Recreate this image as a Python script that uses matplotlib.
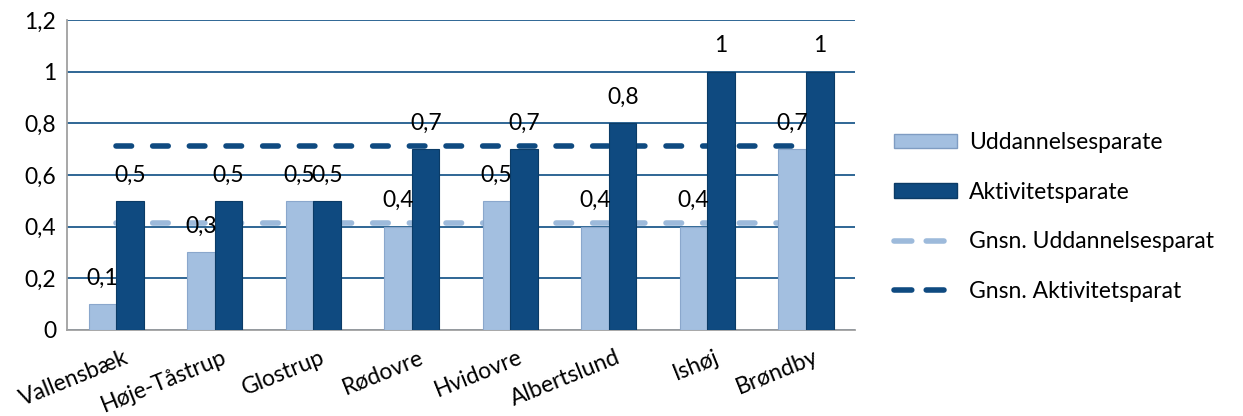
import matplotlib.pyplot as plt
import numpy as np
from matplotlib.lines import Line2D
from matplotlib.patches import Patch

plt.rcParams['font.family'] = ['Lato', 'DejaVu Sans']

kommuner = ['Vallensbæk', 'Høje-Tåstrup', 'Glostrup', 'Rødovre', 'Hvidovre',
            'Albertslund', 'Ishøj', 'Brøndby']
uddannelse = [0.1, 0.3, 0.5, 0.4, 0.5, 0.4, 0.4, 0.7]
aktivitet = [0.5, 0.5, 0.5, 0.7, 0.7, 0.8, 1.0, 1.0]
gnsn_udd = 0.4125
gnsn_akt = 0.7125

light = '#a3bfe0'
dark = '#0f4a80'
grid_col = '#1f5a8c'
fs = 16.5

fig = plt.figure(figsize=(12.43, 4.16), dpi=100)
ax = fig.add_axes([0.054, 0.207, 0.634, 0.745])

x = np.arange(len(kommuner))
w = 0.28

ax.plot([0, 7.05], [gnsn_udd, gnsn_udd], color='#9dbadb', lw=4, ls=(0, (2.8, 3.8)),
        dash_capstyle='round', zorder=2)
ax.plot([0, 7.05], [gnsn_akt, gnsn_akt], color=dark, lw=4, ls=(0, (2.8, 3.8)),
        dash_capstyle='round', zorder=2)

ax.bar(x - w / 2, uddannelse, w, color=light, edgecolor='#8aa7cc', lw=0.8, zorder=3)
ax.bar(x + w / 2, aktivitet, w, color=dark, edgecolor='#0b3b66', lw=0.8, zorder=3)

for xi, v in zip(x - w / 2, uddannelse):
    ax.text(xi, v + 0.1, str(v).replace('.', ','), ha='center', va='center',
            fontsize=fs, zorder=4)
for xi, v in zip(x + w / 2, aktivitet):
    lab = str(int(v)) if v == 1 else str(v).replace('.', ',')
    ax.text(xi, v + 0.1, lab, ha='center', va='center', fontsize=fs, zorder=4)

ax.set_xlim(-0.5, 7.5)
ax.set_ylim(0, 1.2)
ax.set_yticks(np.arange(0, 1.21, 0.2))
ax.set_yticklabels(['0', '0,2', '0,4', '0,6', '0,8', '1', '1,2'], fontsize=fs)
ax.set_xticks(x + 0.07)
ax.set_xticklabels(kommuner, rotation=22, ha='right', rotation_mode='anchor', fontsize=fs)
ax.tick_params(axis='y', length=0, pad=8)
ax.tick_params(axis='x', length=0, pad=12)

ax.yaxis.grid(True, color=grid_col, lw=1.3, zorder=1)
ax.set_axisbelow(True)
for s in ['top', 'right']:
    ax.spines[s].set_visible(False)
ax.spines['left'].set_color('#a0a0a0')
ax.spines['bottom'].set_color('#a0a0a0')
ax.spines['left'].set_linewidth(1.3)
ax.spines['bottom'].set_linewidth(1.3)

handles = [Patch(facecolor=light, edgecolor='#7f9cc2'),
           Patch(facecolor=dark, edgecolor='#0b3b66'),
           Line2D([0], [0], color='#9dbadb', lw=4, ls=(0, (3.2, 2.6)), dash_capstyle='round'),
           Line2D([0], [0], color=dark, lw=4, ls=(0, (3.2, 2.6)), dash_capstyle='round')]
labels = ['Uddannelsesparate', 'Aktivitetsparate', 'Gnsn. Uddannelsesparat',
          'Gnsn. Aktivitetsparat']
fig.legend(handles, labels, loc='center left', bbox_to_anchor=(0.703, 0.478),
           frameon=False, fontsize=fs, handlelength=2.75, handleheight=0.6,
           handletextpad=0.5, labelspacing=1.25)

fig.savefig('out.png', dpi=100)
